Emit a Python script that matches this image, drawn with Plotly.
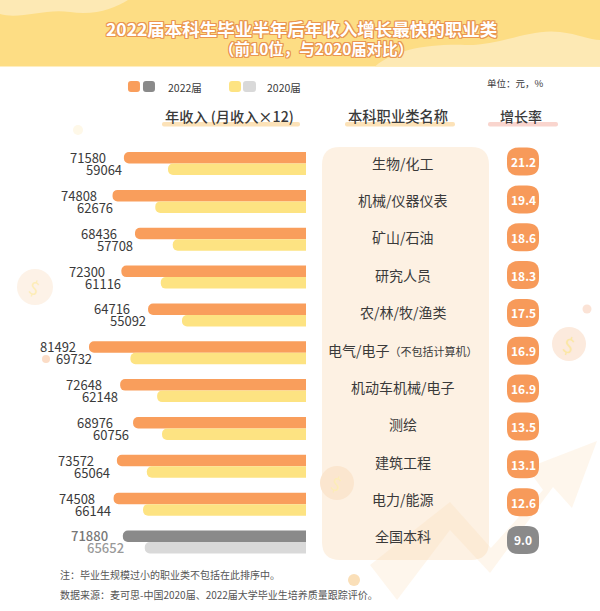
import plotly.graph_objects as go

W, H = 600, 611

categories = ["生物/化工", "机械/仪器仪表", "矿山/石油", "研究人员", "农/林/牧/渔类",
              "电气/电子<span style=\"font-size:11px\">（不包括计算机）</span>",
              "机动车机械/电子", "测绘", "建筑工程", "电力/能源", "全国本科"]
income_2022 = [71580, 74808, 68436, 72300, 64716, 81492, 72648, 68976, 73572, 74508, 71880]
income_2020 = [59064, 62676, 57708, 61116, 55092, 69732, 62148, 60756, 65064, 66144, 65652]
growth = ["21.2", "19.4", "18.6", "18.3", "17.5", "16.9", "16.9", "13.5", "13.1", "12.6", "9.0"]

# hand placed gap between the 2022 bar end and its number in the original
label_gap = [16, 14, 16, 14, 16, 11, 16, 18, 21, 17, 13]

ORANGE = "#F99E5C"
YELLOW = "#FDE382"
GREY = "#8A8A8A"
LIGHT_GREY = "#D9D9D9"
PANEL = "#FDF1E3"
FONT = "Noto Sans CJK SC"
TEXT = "#3A3A3A"


def px(x):
    return x / W


def py(y):
    return 1 - y / H


def poly(points, close=True):
    s = "M " + " L ".join(f"{px(x):.4f} {py(y):.4f}" for x, y in points)
    return s + (" Z" if close else "")


def round_rect(x0, y0, x1, y1, r):
    """rounded rectangle, coordinates in picture pixels"""
    def p(x, y):
        return f"{px(x):.4f} {py(y):.4f}"
    return (f"M {p(x0 + r, y0)} L {p(x1 - r, y0)} Q {p(x1, y0)} {p(x1, y0 + r)} "
            f"L {p(x1, y1 - r)} Q {p(x1, y1)} {p(x1 - r, y1)} L {p(x0 + r, y1)} "
            f"Q {p(x0, y1)} {p(x0, y1 - r)} L {p(x0, y0 + r)} Q {p(x0, y0)} {p(x0 + r, y0)} Z")


def paper_path(path, color, opacity=1.0):
    return dict(type="path", xref="paper", yref="paper", path=path, fillcolor=color,
                line_width=0, opacity=opacity, layer="below")


def circle(cx, cy, r, color):
    return dict(type="circle", xref="paper", yref="paper", x0=px(cx - r), x1=px(cx + r),
                y0=py(cy + r), y1=py(cy - r), fillcolor=color, line_width=0, layer="below")


def note(x, y, text, size=12, color=TEXT, anchor="center", **kw):
    font = dict(family=FONT, size=size, color=color)
    for k in ("weight", "shadow"):
        if k in kw:
            font[k] = kw.pop(k)
    return dict(x=px(x), y=py(y), xref="paper", yref="paper", text=text, showarrow=False,
                xanchor=anchor, yanchor="middle", font=font, **kw)


n = len(categories)
colors_2022 = [ORANGE] * (n - 1) + [GREY]
colors_2020 = [YELLOW] * (n - 1) + [LIGHT_GREY]
rows = list(range(n))

fig = go.Figure()
fig.add_trace(go.Bar(y=rows, x=income_2022, orientation="h", name="2022届",
                     marker=dict(color=colors_2022, cornerradius=6, line_width=0)))
fig.add_trace(go.Bar(y=rows, x=income_2020, orientation="h", name="2020届",
                     marker=dict(color=colors_2020, cornerradius=6, line_width=0)))

# backdrop
shapes = [
    dict(type="rect", xref="paper", yref="paper", x0=0, x1=1, y0=py(66.5), y1=1,
         fillcolor="#FDDD84", line_width=0, layer="below"),
    paper_path(f"M 0 1 L {px(128):.4f} 1 C {px(115):.4f} {py(8):.4f} {px(95):.4f} {py(16):.4f} "
               f"{px(70):.4f} {py(12):.4f} C {px(45):.4f} {py(8):.4f} {px(20):.4f} {py(20):.4f} 0 {py(14):.4f} Z",
               "#FDE9B4"),
    paper_path(f"M {px(375):.4f} {py(66.5):.4f} C {px(395):.4f} {py(50):.4f} {px(425):.4f} {py(44):.4f} "
               f"{px(465):.4f} {py(45):.4f} C {px(500):.4f} {py(46):.4f} {px(530):.4f} {py(28):.4f} "
               f"{px(560):.4f} {py(32):.4f} C {px(578):.4f} {py(34):.4f} {px(590):.4f} {py(40):.4f} "
               f"1 {py(40):.4f} L 1 {py(66.5):.4f} Z", "#FDE9B4"),
    # coins
    circle(35, 287, 18, "#FDF2E7"), circle(78, 130, 5, "#FEF8E8"), circle(46, 359, 4, "#FBDCC6"),
    circle(569, 344, 17, "#FCEADD"), circle(587, 309, 4.5, "#FBE3D6"), circle(354, 580, 6, "#FADFB8"),
    # panel
    paper_path(round_rect(322, 147, 489, 560, 18), PANEL),
    circle(337, 483, 17, "#FBE6CF"),
    # arrow
    paper_path(poly([(370, 565), (450, 502), (491, 548), (543, 490), (527, 468), (597, 441),
                     (572, 508), (553, 487), (490, 573), (450, 530), (397, 600)]), "#FBD9B0", 0.24),
    # column underlines
    paper_path(round_rect(162, 122, 300, 126.5, 2), "#FCE2B8"),
    paper_path(round_rect(345, 122, 455, 126.5, 2), "#FCE2B8"),
    paper_path(round_rect(488, 122, 558, 126.5, 2), "#F9D5CE"),
    # legend swatches
    paper_path(round_rect(128, 81, 140, 92, 3), ORANGE),
    paper_path(round_rect(143, 81, 155, 92, 3), GREY),
    paper_path(round_rect(229, 81, 241, 92, 3), YELLOW),
    paper_path(round_rect(243, 81, 256, 92, 3), LIGHT_GREY),
]

# growth pills sit on the category rows, 2px above the bar centre
pill = "M -4 16 L 4 16 Q 16 16 16 5 L 16 -1 Q 16 -12 4 -12 L -4 -12 Q -16 -12 -16 -1 L -16 5 Q -16 16 -4 16 Z"
for i in rows:
    shapes.append(dict(type="path", xref="paper", yref="y", xsizemode="pixel", ysizemode="pixel",
                       xanchor=px(523), yanchor=i, path=pill, line_width=0, layer="below",
                       fillcolor=GREY if i == n - 1 else "#F79A5A"))

outline = ",".join(f"{a}px {b}px 0 #EA9650" for a in (-1, 0, 1) for b in (-1, 0, 1))
annotations = [
    note(302, 29, "2022届本科生毕业半年后年收入增长最快的职业类", 17.5, "#FFFFFF", weight=700, shadow=outline),
    note(316, 48, "（前10位，与2020届对比）", 15.5, "#FFFFFF", weight=700, shadow=outline),
    note(166, 87, "2022届", 10.5, anchor="left"),
    note(265, 87, "2020届", 10.5, anchor="left"),
    note(515, 83, "单位：元，%", 9.5),
    note(229, 116, "年收入 (月收入×12)", 14.2, weight=500),
    note(398, 116, "本科职业类名称", 14.3, weight=500),
    note(521, 116, "增长率", 14, weight=500),
    note(58, 574, "注：毕业生规模过小的职业类不包括在此排序中。", 10, "#555555", anchor="left"),
    note(58, 594, "数据来源：麦可思-中国2020届、2022届大学毕业生培养质量跟踪评价。", 10, "#555555", anchor="left"),
    note(35, 287, "$", 18, "#FDEDB8", textangle=20),
    note(569, 344, "$", 20, "#FBE7A6", textangle=20),
    note(337, 483, "$", 18, "#FDEDB8", textangle=20),
]

for i in rows:
    last = i == n - 1
    annotations.append(dict(x=income_2022[i], y=i, xref="x", yref="y", text=str(income_2022[i]),
                            showarrow=False, xanchor="right", yanchor="middle", xshift=-label_gap[i], yshift=6,
                            font=dict(family=FONT, size=13, color="#777777" if last else TEXT,
                                      weight=500 if last else 400)))
    annotations.append(dict(x=income_2022[i], y=i, xref="x", yref="y", text=str(income_2020[i]),
                            showarrow=False, xanchor="right", yanchor="middle", xshift=16 - label_gap[i], yshift=-6,
                            font=dict(family=FONT, size=13, color="#999999" if last else TEXT,
                                      weight=500 if last else 400)))
    annotations.append(dict(x=px(403), y=i, xref="paper", yref="y", text=categories[i], showarrow=False,
                            xanchor="center", yanchor="middle", yshift=1 + i * 0.45,
                            font=dict(family=FONT, size=14, color=TEXT)))
    annotations.append(dict(x=px(523), y=i, xref="paper", yref="y", text=growth[i], showarrow=False,
                            xanchor="center", yanchor="middle", yshift=2,
                            font=dict(family=FONT, size=12, color="#FFFFFF", weight=700)))

fig.update_layout(
    width=W, height=H, autosize=False, margin=dict(l=0, r=0, t=0, b=0),
    paper_bgcolor="#FFFFFF", plot_bgcolor="rgba(0,0,0,0)", showlegend=False,
    barmode="group", bargap=0.392, bargroupgap=0,
    shapes=shapes, annotations=annotations,
    xaxis=dict(domain=[0, 306 / W], range=[106752, 19894], visible=False, fixedrange=True),
    yaxis=dict(domain=[py(560.9), py(144.65)], range=[n - 0.5, -0.5], visible=False, fixedrange=True),
)

fig.write_html("out.html", config={"displayModeBar": False},
               post_script="document.body.style.margin='0';")
